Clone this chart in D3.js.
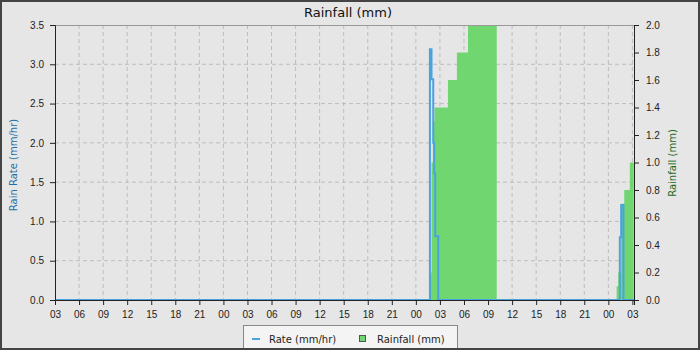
<!DOCTYPE html>
<html>
<head>
<meta charset="utf-8">
<script src="https://cdn.jsdelivr.net/npm/d3@7"></script>
<style>
  body { margin: 0; background: #e6e6e6; }
  svg { display: block; font-family: "DejaVu Sans", sans-serif; }
  .axis text { font-size: 10px; fill: #222; }
  .axis line, .axis path { stroke: #222; }
  .grid line { stroke: #bdbdbd; stroke-dasharray: 4,3; }
</style>
</head>
<body>
<svg id="chart" width="700" height="350"></svg>
<script>
  "use strict";

  // rain rate (mm/hr), step values
  var rateTimes = ["2024-05-01 03:00", "2024-05-03 01:45", "2024-05-03 01:57", "2024-05-03 02:10",
    "2024-05-03 02:17", "2024-05-03 02:25", "2024-05-03 02:47", "2024-05-04 01:26",
    "2024-05-04 01:36", "2024-05-04 01:53", "2024-05-04 03:12"];
  var rateValues = [0, 3.19, 2.81, 2.0, 1.61, 0.81, 0, 0.8, 1.21, 0, 0];

  // rainfall (mm), step values
  var rainTimes = ["2024-05-03 01:40", "2024-05-03 01:57", "2024-05-03 02:07", "2024-05-03 02:20",
    "2024-05-03 04:00", "2024-05-03 05:07", "2024-05-03 06:30", "2024-05-03 10:05",
    "2024-05-04 01:02", "2024-05-04 01:14", "2024-05-04 01:35", "2024-05-04 01:59",
    "2024-05-04 02:41", "2024-05-04 03:10"];
  var rainValues = [0.2, 1.0, 1.3, 1.4, 1.6, 1.8, 2.0, 0, 0.1, 0.2, 0.7, 0.8, 1.0, 0];

  var timeRange = ["2024-05-01 03:00", "2024-05-04 03:12"];
  var rateTicks = [0, 0.5, 1.0, 1.5, 2.0, 2.5, 3.0, 3.5];
  var rainTicks = [0, 0.2, 0.4, 0.6, 0.8, 1.0, 1.2, 1.4, 1.6, 1.8, 2.0];

  var parse = d3.timeParse("%Y-%m-%d %H:%M");
  var rate = rateTimes.map(function(t, i) { return {t: parse(t), v: rateValues[i]}; });
  var rain = rainTimes.map(function(t, i) { return {t: parse(t), v: rainValues[i]}; });

  var plot = {left: 55, right: 634, top: 25, bottom: 300};
  var svg = d3.select("#chart");

  var x = d3.scaleTime().domain(timeRange.map(parse)).range([plot.left, plot.right]);
  var yRate = d3.scaleLinear().domain([0, 3.5]).range([plot.bottom, plot.top]);
  var yRain = d3.scaleLinear().domain([0, 2.0]).range([plot.bottom, plot.top]);

  svg.append("rect")
    .attr("width", 700).attr("height", 350)
    .attr("fill", "#e6e6e6");

  svg.append("text")
    .attr("x", 348).attr("y", 17)
    .attr("text-anchor", "middle")
    .attr("font-size", 13)
    .attr("fill", "#111")
    .text("Rainfall (mm)");

  // grid
  var grid = svg.append("g").classed("grid", true);
  grid.selectAll("line.v")
    .data(x.ticks(d3.timeHour.every(3)).filter(function(d) { return x(d) > plot.left + 1; }))
    .enter().append("line")
    .attr("x1", function(d) { return x(d); })
    .attr("x2", function(d) { return x(d); })
    .attr("y1", plot.top).attr("y2", plot.bottom);
  grid.selectAll("line.h")
    .data(rateTicks.filter(function(d) { return d > 0 && d < 3.5; }))
    .enter().append("line")
    .attr("x1", plot.left).attr("x2", plot.right)
    .attr("y1", function(d) { return yRate(d); })
    .attr("y2", function(d) { return yRate(d); });

  // rainfall area
  var area = d3.area()
    .curve(d3.curveStepAfter)
    .x(function(d) { return x(d.t); })
    .y0(yRain(0))
    .y1(function(d) { return yRain(d.v); });
  svg.append("path")
    .datum(rain)
    .attr("d", area)
    .attr("fill", "#70d670");

  // rate line
  var line = d3.line()
    .curve(d3.curveStepAfter)
    .x(function(d) { return x(d.t); })
    .y(function(d) { return yRate(d.v); });
  svg.append("path")
    .datum(rate)
    .attr("d", line)
    .attr("fill", "none")
    .attr("stroke", "#4aa3df")
    .attr("stroke-width", 2);

  // frame top
  svg.append("line")
    .attr("x1", plot.left).attr("x2", plot.right)
    .attr("y1", plot.top + 0.5).attr("y2", plot.top + 0.5)
    .attr("stroke", "#999");

  // x axis
  var gx = svg.append("g").classed("axis", true)
    .attr("transform", "translate(0," + plot.bottom + ")");
  gx.call(d3.axisBottom(x).ticks(d3.timeHour.every(1)).tickSize(3).tickFormat(""));
  gx.call(d3.axisBottom(x).ticks(d3.timeHour.every(3)).tickSize(5).tickPadding(6)
    .tickFormat(d3.timeFormat("%H")));
  gx.selectAll(".domain").attr("stroke", "#999");

  // left axis
  var gl = svg.append("g").classed("axis", true)
    .attr("transform", "translate(" + plot.left + ",0)");
  gl.call(d3.axisLeft(yRate).tickValues(d3.range(0, 36).map(function(i) { return i / 10; }))
    .tickSize(3).tickFormat(""));
  gl.call(d3.axisLeft(yRate).tickValues(rateTicks).tickSize(5).tickPadding(6)
    .tickFormat(d3.format(".1f")));

  // right axis
  var gr = svg.append("g").classed("axis", true)
    .attr("transform", "translate(" + plot.right + ",0)");
  gr.call(d3.axisRight(yRain).tickValues(d3.range(0, 21).map(function(i) { return i / 10; }))
    .tickSize(3).tickFormat(""));
  gr.call(d3.axisRight(yRain).tickValues(rainTicks).tickSize(5).tickPadding(7)
    .tickFormat(d3.format(".1f")));
  gr.selectAll(".domain").attr("stroke", "#999");
  gx.selectAll("path.domain").attr("stroke", "none");

  svg.append("text")
    .attr("transform", "translate(16.5,165) rotate(-90)")
    .attr("text-anchor", "middle")
    .attr("font-size", 10)
    .attr("fill", "#1f6fa8")
    .text("Rain Rate (mm/hr)");

  svg.append("text")
    .attr("transform", "translate(676,163) rotate(-90)")
    .attr("text-anchor", "middle")
    .attr("font-size", 10)
    .attr("fill", "#1d6b1d")
    .text("Rainfall (mm)");

  // legend
  var legend = svg.append("g");
  legend.append("rect")
    .attr("x", 243.5).attr("y", 325.5).attr("width", 214).attr("height", 30)
    .attr("fill", "#f4f4f4").attr("stroke", "#888");
  legend.append("line")
    .attr("x1", 252).attr("x2", 260).attr("y1", 339).attr("y2", 339)
    .attr("stroke", "#4aa3df").attr("stroke-width", 2);
  legend.append("text")
    .attr("x", 269).attr("y", 342.5).attr("font-size", 10).attr("fill", "#222")
    .text("Rate (mm/hr)");
  legend.append("rect")
    .attr("x", 359.5).attr("y", 335.5).attr("width", 6).attr("height", 6)
    .attr("fill", "#70d670").attr("stroke", "#555");
  legend.append("text")
    .attr("x", 377).attr("y", 342.5).attr("font-size", 10).attr("fill", "#222")
    .text("Rainfall (mm)");

  // outer border
  svg.append("rect")
    .attr("x", 1).attr("y", 1).attr("width", 698).attr("height", 348)
    .attr("fill", "none").attr("stroke", "#444").attr("stroke-width", 2);
</script>
</body>
</html>
